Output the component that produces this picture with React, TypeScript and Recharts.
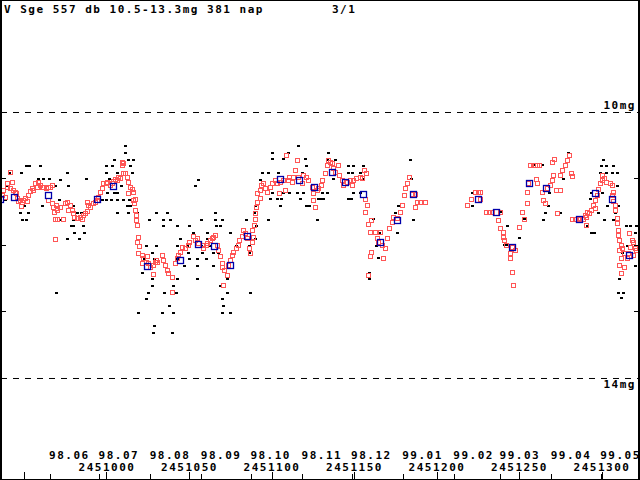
import { ScatterChart, Scatter, XAxis, YAxis, ReferenceLine } from "recharts";

// x = JD - 2450000, y = magnitude

const visualObs: [number, number][] = [
  [1011.0, 10.51], [1011.0, 10.62], [1012.8, 10.72], [1004.3, 10.72], [1015.8, 10.72],
  [951.0, 10.81], [952.8, 10.81], [960.0, 10.81], [999.4, 10.81], [1003.1, 10.81], [1014.0, 10.81],
  [940.7, 10.92], [947.9, 10.92], [975.8, 10.92], [1000.0, 10.92], [1006.1, 10.92], [1015.2, 10.92],
  [958.2, 11.01], [961.3, 11.01], [964.9, 11.01], [971.6, 11.02], [987.3, 11.01], [1001.3, 11.01],
  [940.0, 11.11], [968.5, 11.11], [976.4, 11.11], [1008.5, 11.11],
  [1000.6, 11.22], [1004.3, 11.22], [1006.1, 11.22],
  [938.2, 11.32], [971.0, 11.32], [997.0, 11.32], [999.4, 11.32], [1002.5, 11.32], [1006.1, 11.32],
  [1010.3, 11.32], [1013.4, 11.32],
  [949.7, 11.41], [960.7, 11.41], [979.4, 11.41], [1012.2, 11.41], [1014.0, 11.41],
  [947.3, 11.52], [952.2, 11.52], [981.9, 11.52], [984.3, 11.52], [1006.1, 11.52], [1012.8, 11.52],
  [1018.2, 11.52], [1030.3, 11.52],
  [948.5, 11.62], [951.0, 11.62], [971.6, 11.62], [979.4, 11.62], [1025.5, 11.62],
  [978.2, 11.72], [980.0, 11.72], [985.5, 11.72], [980.6, 11.82], [986.1, 11.82],
  [975.8, 11.91], [983.1, 11.91], [1023.7, 12.02], [1030.3, 12.02], [1027.3, 12.12],
  [1022.5, 12.21], [1028.5, 12.21], [1021.3, 12.42], [1027.3, 12.51], [1027.3, 12.62],
  [1024.9, 12.72], [969.1, 12.72], [1023.7, 12.81], [1018.8, 13.02], [1028.5, 13.22],
  [1034.6, 12.72], [1041.9, 12.72], [1037.6, 12.92], [1033.4, 13.02], [1040.6, 13.02],
  [1027.9, 13.32], [1039.4, 13.32], [1072.8, 12.72], [1086.7, 12.72], [1070.3, 12.81],
  [1070.9, 12.92], [1069.7, 13.02], [1074.6, 13.02],
  [1115.8, 10.51], [1100.6, 10.62], [1109.7, 10.62], [1100.6, 10.71], [1106.7, 10.71],
  [1120.0, 10.71], [1121.2, 10.81], [1055.2, 11.02], [1053.4, 11.11],
  [1094.0, 10.92], [1097.6, 10.92], [1103.7, 10.92], [1118.2, 10.92], [1092.8, 11.02],
  [1100.0, 11.22], [1106.7, 11.22], [1110.9, 11.22], [1115.2, 11.22], [1118.8, 11.22],
  [1098.8, 11.31], [1103.1, 11.31], [1105.5, 11.31], [1117.0, 11.31], [1127.9, 11.31],
  [1104.9, 11.41], [1121.2, 11.41], [1122.5, 11.41], [1089.7, 11.41],
  [1036.4, 11.52], [1065.5, 11.52], [1089.1, 11.52],
  [1034.0, 11.62], [1038.2, 11.62], [1057.0, 11.62], [1065.5, 11.62], [1069.7, 11.62],
  [1084.3, 11.62], [1097.6, 11.62], [1127.3, 11.62],
  [1034.0, 11.72], [1042.5, 11.72], [1049.7, 11.72], [1066.1, 11.72], [1068.5, 11.72], [1090.9, 11.72],
  [1052.2, 11.82], [1061.2, 11.82], [1074.6, 11.82], [1044.3, 11.91], [1061.2, 11.91], [1089.7, 11.91],
  [1042.5, 12.02], [1048.5, 12.02], [1057.0, 12.02], [1062.5, 12.02], [1078.2, 12.02], [1086.1, 12.02],
  [1049.1, 12.12], [1057.6, 12.12], [1064.3, 12.12], [1067.3, 12.12], [1086.1, 12.12],
  [1042.5, 12.21], [1050.3, 12.21], [1054.6, 12.21], [1060.6, 12.21],
  [1046.7, 12.32], [1054.6, 12.32], [1064.3, 12.32],
  [1042.5, 12.51], [1054.6, 12.51], [1072.8, 12.51], [1068.5, 12.62], [1040.6, 12.62],
  [1134.0, 10.62], [1133.4, 10.72], [1138.2, 10.72], [1146.1, 10.81], [1149.1, 10.81],
  [1155.2, 10.81], [1183.7, 10.72], [1146.1, 10.92], [1148.5, 10.92], [1153.4, 10.92],
  [1137.0, 11.01], [1155.2, 11.01], [1184.3, 11.01], [1149.1, 11.22], [1153.4, 11.22],
  [1130.9, 11.22], [1133.4, 11.22], [1129.7, 11.31], [1131.5, 11.31], [1146.1, 11.31],
  [1147.9, 11.31], [1176.4, 11.41], [1174.6, 11.52], [1185.5, 11.62], [1175.8, 11.82],
  [1161.8, 11.61], [1164.9, 11.82], [1163.1, 12.02], [1164.3, 12.2], [1158.8, 12.42],
  [1158.8, 12.51], [1221.8, 11.22], [1221.8, 11.41],
  [1279.4, 10.62], [1301.2, 10.72], [1299.4, 10.81], [1303.0, 10.81], [1306.7, 10.81],
  [1298.8, 10.92], [1303.0, 10.92], [1306.1, 10.92], [1309.1, 10.92], [1276.4, 11.01],
  [1267.9, 11.22], [1293.9, 11.22], [1300.6, 11.22], [1309.1, 11.11], [1293.3, 11.31],
  [1267.3, 11.41], [1297.6, 11.52], [1303.6, 11.41], [1309.7, 11.41], [1307.9, 11.52],
  [1265.5, 11.52], [1264.3, 11.62], [1253.3, 11.61], [1274.6, 11.52], [1301.8, 11.62],
  [1306.7, 11.62], [1291.5, 11.72], [1314.6, 11.72], [1317.0, 11.72], [1321.2, 11.72],
  [1243.0, 11.72], [1293.9, 11.82], [1295.2, 11.82], [1250.3, 11.9], [1241.2, 12.0],
  [1242.4, 12.0], [1320.6, 11.82], [1315.2, 12.02], [1312.7, 12.12], [1320.0, 12.32],
  [1310.3, 12.51], [1309.7, 12.72], [1313.3, 12.72], [1312.1, 12.8], [1238.2, 11.5],
  [1258.2, 10.8], [1263.7, 10.8],
];

const ccdSummer: [number, number][] = [
  [936.4, 11.25], [937.0, 11.17], [941.3, 10.9], [942.5, 11.05], [940.0, 11.07], [939.4, 11.13],
  [941.3, 11.14], [943.1, 11.17], [938.2, 11.28], [944.3, 11.2], [944.9, 11.22], [945.5, 11.29],
  [946.1, 11.34], [947.3, 11.32], [948.5, 11.35], [949.1, 11.32], [947.9, 11.41], [950.4, 11.29],
  [951.6, 11.34], [952.2, 11.25], [953.4, 11.19], [954.6, 11.14], [955.2, 11.17], [956.4, 11.07],
  [957.6, 11.13], [958.2, 11.05], [959.4, 11.1], [960.7, 11.13], [961.3, 11.13], [963.1, 11.14],
  [964.3, 11.13], [965.5, 11.13], [966.7, 11.1], [964.3, 11.32], [966.7, 11.37], [967.3, 11.43],
  [969.1, 11.4], [970.3, 11.44], [967.9, 11.5], [969.7, 11.47], [971.6, 11.43], [968.5, 11.61],
  [969.7, 11.61], [973.4, 11.61], [968.5, 11.91],
  [974.6, 11.37], [975.8, 11.35], [977.6, 11.4], [976.4, 11.47], [978.8, 11.47], [979.4, 11.52],
  [980.6, 11.58], [981.9, 11.6], [983.7, 11.58], [984.9, 11.61], [985.5, 11.55], [986.7, 11.52],
  [987.9, 11.49], [988.5, 11.4], [987.9, 11.35], [990.3, 11.43], [991.6, 11.37], [992.8, 11.35],
  [994.0, 11.32], [994.6, 11.28], [995.8, 11.2], [997.0, 11.14], [997.6, 11.07], [999.4, 11.07],
  [1000.6, 11.05], [1001.9, 11.1], [1003.1, 11.07], [1003.7, 11.04], [1004.9, 11.01],
  [1006.1, 11.02], [1006.7, 10.98], [1007.9, 10.99], [1009.1, 10.75], [1009.7, 10.77],
  [1009.1, 10.8], [1009.7, 10.92], [1011.0, 10.92], [1012.2, 10.98], [1012.8, 11.05],
  [1014.0, 11.13], [1015.2, 11.16], [1012.8, 11.22], [1015.8, 11.2], [1015.8, 11.32],
  [1017.0, 11.31], [1016.4, 11.37], [1017.0, 11.47], [1017.6, 11.55], [1017.6, 11.62],
  [1018.2, 11.7], [1018.8, 11.88], [1018.2, 11.96], [1020.0, 12.02], [1018.8, 12.12],
  [1021.3, 12.15], [1021.9, 12.2], [1023.7, 12.26], [1024.9, 12.27], [1026.1, 12.33],
  [1027.9, 12.3], [1029.1, 12.26], [1030.3, 12.23], [1030.9, 12.26], [1027.9, 12.44],
  [1021.3, 12.27], [1024.3, 12.17],
];

const ccdAutumn: [number, number][] = [
  [1033.4, 12.15], [1034.0, 12.23], [1035.2, 12.3], [1036.4, 12.38], [1037.0, 12.42],
  [1039.4, 12.48], [1040.0, 12.71], [1041.3, 12.27], [1042.5, 12.2], [1043.1, 12.15],
  [1044.3, 12.11], [1045.5, 12.03], [1047.3, 12.05], [1049.1, 12.0], [1050.3, 11.96],
  [1052.2, 11.87], [1053.4, 11.93], [1054.6, 11.9], [1055.2, 11.97], [1057.6, 12.0],
  [1058.2, 12.05], [1060.6, 12.0], [1061.2, 11.97], [1062.5, 11.93], [1063.7, 11.9],
  [1064.3, 11.88], [1065.5, 11.85], [1066.7, 12.0], [1067.3, 12.08], [1068.5, 12.17],
  [1069.7, 12.27], [1070.3, 12.33], [1071.5, 12.38], [1072.8, 12.45], [1070.9, 12.6],
  [1073.4, 12.3], [1074.6, 12.23], [1075.8, 12.15], [1076.4, 12.11], [1078.2, 12.05],
  [1079.4, 12.0], [1080.6, 11.93], [1081.9, 11.87], [1082.5, 11.78], [1083.7, 11.82],
  [1084.9, 11.9], [1086.1, 12.05], [1086.7, 12.12], [1087.9, 11.96], [1088.5, 11.88],
  [1087.9, 11.78], [1089.1, 11.7], [1089.7, 11.61], [1090.3, 11.52], [1090.9, 11.43],
  [1091.5, 11.35], [1092.8, 11.29], [1091.5, 11.22], [1092.8, 11.17], [1093.4, 11.1],
  [1094.6, 11.07], [1095.8, 11.14], [1097.0, 11.2], [1098.8, 11.13], [1100.6, 11.07],
  [1101.9, 11.02], [1103.1, 11.07], [1104.3, 11.22], [1104.9, 11.05], [1106.7, 11.02],
  [1108.5, 10.65], [1109.7, 11.02], [1110.9, 10.98], [1112.2, 11.05], [1112.8, 10.98],
  [1114.0, 10.87], [1115.2, 10.72], [1115.8, 10.98], [1118.2, 11.07], [1118.8, 10.95],
  [1121.2, 10.98], [1121.9, 11.02], [1124.3, 11.13], [1124.9, 11.22], [1124.9, 11.32],
  [1126.1, 11.43], [1127.3, 11.17], [1127.9, 11.14], [1107.9, 11.17],
];

const ccdWinter: [number, number][] = [
  [1130.3, 11.1], [1130.9, 11.02], [1132.2, 10.92], [1133.4, 10.8], [1134.0, 10.72],
  [1135.2, 10.75], [1136.4, 10.77], [1137.0, 10.84], [1138.2, 10.9], [1140.0, 10.8],
  [1141.2, 10.95], [1142.5, 11.02], [1143.1, 11.1], [1145.5, 11.05], [1147.3, 11.02],
  [1148.5, 11.1], [1149.1, 11.02], [1151.5, 10.99], [1153.4, 10.98], [1154.6, 10.99],
  [1155.8, 10.87], [1157.0, 10.92], [1156.4, 11.31], [1157.6, 11.4], [1156.4, 11.5],
  [1160.6, 11.62], [1158.2, 11.68], [1159.4, 11.8], [1162.5, 11.8], [1165.5, 11.8],
  [1163.7, 11.9], [1164.3, 11.96], [1166.7, 12.0], [1168.5, 12.05], [1160.6, 12.11],
  [1159.4, 12.17], [1167.3, 12.2], [1158.2, 12.45], [1169.7, 11.9], [1171.5, 11.74],
  [1172.8, 11.65], [1173.4, 11.58], [1175.8, 11.6], [1177.6, 11.5], [1178.8, 11.4],
  [1180.6, 11.25], [1181.2, 11.14], [1181.9, 11.07], [1183.1, 10.98], [1184.9, 11.23],
  [1186.7, 11.23], [1187.9, 11.35], [1189.7, 11.35], [1192.8, 11.35], [1186.7, 11.43],
];

const ccdSpring: [number, number][] = [
  [1218.2, 11.4], [1221.2, 11.31], [1223.1, 11.2], [1224.9, 11.2], [1226.1, 11.2], [1226.1, 11.31],
  [1230.3, 11.5], [1232.1, 11.5], [1233.9, 11.5], [1238.2, 11.5], [1237.0, 11.63], [1238.2, 11.75],
  [1240.0, 11.8], [1240.0, 11.88], [1241.2, 11.93], [1242.4, 12.0], [1245.5, 12.03], [1244.3, 12.12],
  [1247.3, 12.08], [1244.3, 12.2], [1245.5, 12.41], [1246.1, 12.6], [1250.3, 11.73], [1252.1, 11.5],
  [1253.3, 11.61], [1254.6, 11.37], [1254.6, 11.2], [1255.2, 11.07], [1256.4, 10.8], [1258.2, 10.8],
  [1259.4, 10.8], [1261.2, 10.8], [1262.4, 10.8], [1260.6, 11.01], [1261.2, 11.07], [1263.7, 11.2],
  [1264.3, 11.32], [1265.5, 11.37], [1266.7, 11.14], [1268.5, 11.1], [1269.7, 11.02], [1270.3, 10.95],
  [1269.7, 10.75], [1271.5, 10.71], [1272.7, 11.17], [1273.3, 11.52], [1274.6, 10.95], [1275.8, 10.87],
  [1277.6, 10.8], [1278.8, 10.72], [1280.0, 10.65], [1281.8, 10.92], [1282.4, 10.96], [1274.6, 11.17],
  [1282.4, 11.61], [1283.7, 11.61], [1285.5, 11.61], [1286.7, 11.6], [1288.5, 11.61], [1289.7, 11.55],
  [1290.9, 11.58], [1290.9, 11.7], [1291.5, 11.5], [1292.7, 11.52], [1293.9, 11.47], [1294.6, 11.4],
  [1295.8, 11.32], [1295.8, 11.44], [1297.0, 11.25], [1297.6, 11.16], [1298.8, 11.07], [1300.0, 10.95],
  [1300.6, 11.02], [1301.8, 10.99], [1303.0, 11.05], [1304.9, 11.07], [1306.1, 11.1], [1306.7, 11.2],
  [1306.1, 11.25], [1306.7, 11.34], [1307.9, 11.4], [1307.9, 11.47], [1309.1, 11.6], [1309.1, 11.67],
  [1309.7, 11.78], [1309.7, 11.85], [1310.9, 11.93], [1312.1, 12.0], [1310.9, 12.08], [1312.7, 12.05],
  [1313.9, 12.12], [1312.1, 12.2], [1310.9, 12.3], [1312.1, 12.42], [1313.9, 12.33], [1315.8, 12.12],
  [1317.0, 12.03], [1318.2, 11.93], [1318.8, 11.96], [1320.0, 12.05], [1318.8, 12.15], [1316.4, 11.82],
  [1321.2, 12.08], [1315.2, 12.2],
];

const means: [number, number][] = [
  [935.6, 11.31], [943.7, 11.28], [964.3, 11.25], [994.0, 11.31], [1003.7, 11.11],
  [1024.3, 12.32], [1044.3, 12.23], [1055.2, 11.99], [1064.9, 12.02], [1074.6, 12.3],
  [1084.9, 11.87], [1104.9, 11.01], [1116.4, 11.02], [1125.5, 11.13], [1136.4, 10.9],
  [1144.3, 11.05], [1155.2, 11.23], [1165.5, 11.96], [1175.8, 11.62], [1185.5, 11.23],
  [1224.9, 11.31], [1235.8, 11.5], [1245.5, 12.03], [1255.8, 11.07], [1266.1, 11.14],
  [1286.1, 11.61], [1295.8, 11.22], [1306.1, 11.31], [1316.4, 12.15],
];

const jdTicks = [950, 1000, 1050, 1100, 1150, 1200, 1250, 1300];
const jdLabels = ["", "2451000", "2451050", "2451100", "2451150", "2451200", "2451250", "2451300"];
const monthTicks = [965.5, 995.5, 1026.5, 1057.5, 1087.5, 1118.5, 1148.5, 1179.5, 1210.5, 1238.5, 1269.5, 1299.5];
const monthLabels = ["98.06", "98.07", "98.08", "98.09", "98.10", "98.11", "98.12", "99.01", "99.02", "99.03", "99.04", "99.05"];
const magTicks = [11, 12, 13];

const W = 640;
const H = 480;
const X_DOMAIN = [935.76, 1322.42];
const Y_DOMAIN = [8.3083, 15.4963];
const font = {
  fontFamily: "'DejaVu Sans Mono', monospace",
  fontWeight: 700,
  fontSize: 11,
  letterSpacing: 1.5,
};

const toPoints = (rows: [number, number][]) => rows.map(([jd, mag]) => ({ jd, mag }));
const px = (v: number) => Math.floor(v) + 0.5;

const Dot = (p: any) => (
  <rect x={Math.floor(p.cx) - 1} y={Math.floor(p.cy) - 1} width={3} height={2} fill="#000" />
);
const RedBox = (p: any) => (
  <rect x={px(p.cx) - 2} y={px(p.cy) - 2} width={4} height={4}
    fill="none" stroke="#ff5555" strokeWidth={1} shapeRendering="crispEdges" />
);
const BlueBox = (p: any) => (
  <rect x={Math.floor(p.cx) - 2.5} y={Math.floor(p.cy) - 2.5} width={6} height={6}
    fill="none" stroke="#0000aa" strokeWidth={1.3} />
);

// tick marks rise from the bottom edge, labels sit just above them
const JdTick = (p: any) => (
  <g>
    <path d={`M${px(p.x)},${H}V${H - 8}`} stroke="#000" strokeWidth={1} fill="none" />
    <text x={p.x} y={471} textAnchor="middle" fill="#000" style={font}>
      {jdLabels[jdTicks.indexOf(p.payload.value)]}
    </text>
  </g>
);
const MonthTick = (p: any) => (
  <g>
    <path d={`M${px(p.x)},${H}V${H - 6}`} stroke="#000" strokeWidth={1} fill="none" />
    <text x={p.x - 1} y={459} textAnchor="start" fill="#000" style={font}>
      {monthLabels[monthTicks.indexOf(p.payload.value)]}
    </text>
  </g>
);
const LeftTick = (p: any) => <rect x={0} y={Math.floor(p.y)} width={6} height={1} fill="#000" />;
const RightTick = (p: any) => <rect x={W - 6} y={Math.floor(p.y)} width={6} height={1} fill="#000" />;

const magLabel = (text: string, dy: number) => (p: any) => (
  <text x={636} y={p.viewBox.y + dy} textAnchor="end" fill="#000" style={font}>{text}</text>
);

export default function App() {
  return (
    <div style={{ position: "fixed", left: 0, top: 0, width: W, height: H, background: "#fff" }}>
      <ScatterChart width={W} height={H} margin={{ top: 0, right: 0, bottom: 0, left: 0 }}>
        <XAxis xAxisId="jd" type="number" dataKey="jd" domain={X_DOMAIN} allowDataOverflow
          height={1} ticks={jdTicks} interval={0} tick={JdTick} axisLine={false} tickLine={false} />
        <XAxis xAxisId="mon" type="number" dataKey="jd" domain={X_DOMAIN} allowDataOverflow
          height={1} ticks={monthTicks} interval={0} tick={MonthTick} axisLine={false} tickLine={false} />
        <YAxis yAxisId="m" type="number" dataKey="mag" reversed domain={Y_DOMAIN} allowDataOverflow
          width={1} ticks={magTicks} interval={0} tick={LeftTick} axisLine={false} tickLine={false} />
        <YAxis yAxisId="r" orientation="right" type="number" dataKey="mag" reversed domain={Y_DOMAIN}
          allowDataOverflow width={1} ticks={magTicks} interval={0} tick={RightTick} axisLine={false} tickLine={false} />
        <ReferenceLine xAxisId="jd" yAxisId="m" y={10} stroke="#000" strokeDasharray="6 6" label={magLabel("10mg", -3)} />
        <ReferenceLine xAxisId="jd" yAxisId="m" y={14} stroke="#000" strokeDasharray="6 6" label={magLabel("14mg", 10)} />
        <Scatter xAxisId="jd" yAxisId="m" data={toPoints(visualObs)} shape={Dot} isAnimationActive={false} />
        <Scatter xAxisId="jd" yAxisId="m" data={toPoints(ccdSummer)} shape={RedBox} isAnimationActive={false} />
        <Scatter xAxisId="jd" yAxisId="m" data={toPoints(ccdAutumn)} shape={RedBox} isAnimationActive={false} />
        <Scatter xAxisId="jd" yAxisId="m" data={toPoints(ccdWinter)} shape={RedBox} isAnimationActive={false} />
        <Scatter xAxisId="jd" yAxisId="m" data={toPoints(ccdSpring)} shape={RedBox} isAnimationActive={false} />
        <Scatter xAxisId="jd" yAxisId="m" data={toPoints(means)} shape={BlueBox} isAnimationActive={false} />
      </ScatterChart>
      <svg width={W} height={H} style={{ position: "absolute", left: 0, top: 0, pointerEvents: "none" }}>
        <rect x={0.5} y={0.5} width={W - 1} height={H - 1} fill="none" stroke="#000" />
        <line x1={1.5} x2={1.5} y1={0} y2={H} stroke="#000" />
        <line x1={W - 1.5} x2={W - 1.5} y1={0} y2={H} stroke="#000" />
        <text x={4} y={13} fill="#000" style={font}>V Sge 557 db 10.5-13.3mg 381 nap</text>
        <text x={332} y={13} fill="#000" style={font}>3/1</text>
      </svg>
    </div>
  );
}
